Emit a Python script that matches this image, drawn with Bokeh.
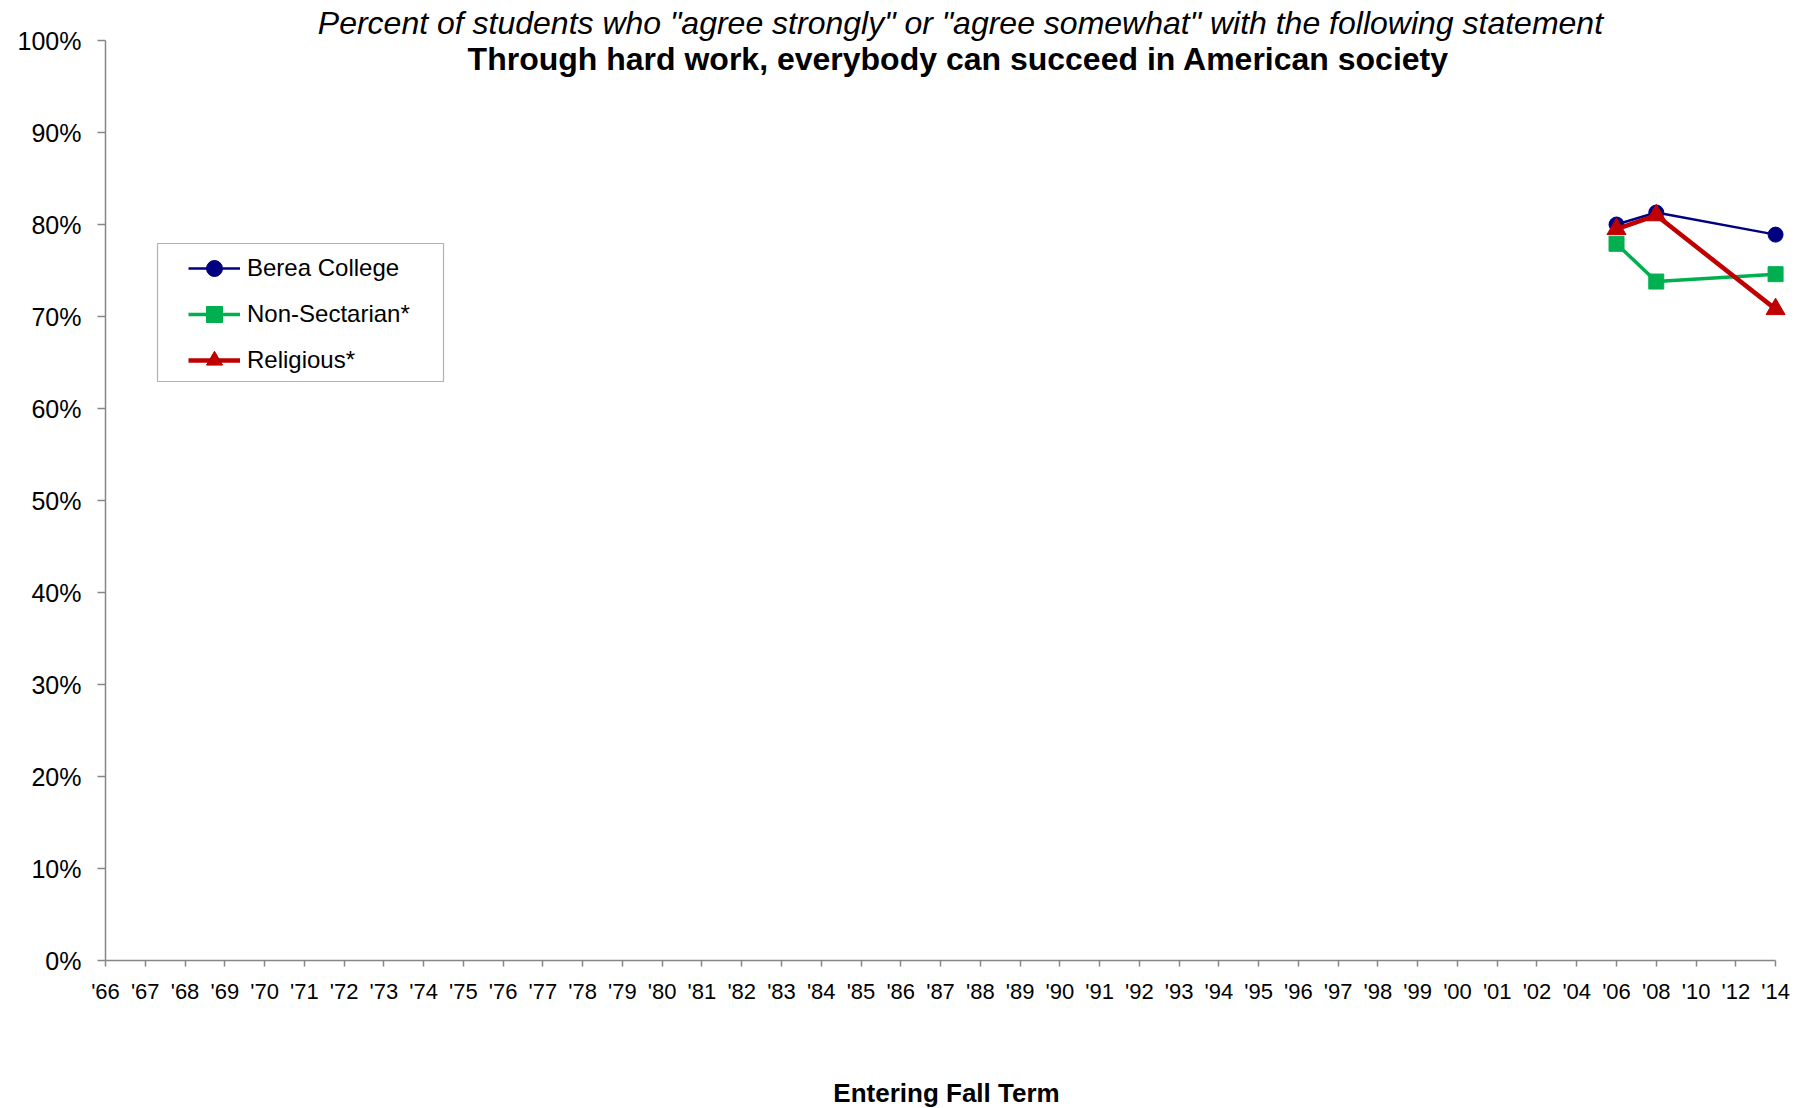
from bokeh.plotting import figure
from bokeh.models import (ColumnDataSource, Legend, LegendItem, Label, FixedTicker,
                          PrintfTickFormatter, Range1d, BoxAnnotation)
from bokeh.embed import file_html
from bokeh.resources import INLINE

# ---- data ----
years = [f"'{y:02d}" for y in list(range(66, 100)) + [0, 1, 2, 4, 6, 8, 10, 12, 14]]
series_years = ["'06", "'08", "'14"]
berea = [80.0, 81.3, 78.9]
non_sectarian = [77.9, 73.8, 74.6]
religious = [79.5, 81.0, 70.8]
y_ticks = list(range(0, 101, 10))

title_1 = 'Percent of students who "agree strongly" or "agree somewhat" with the following statement'
title_2 = "Through hard work, everybody can succeed in American society"
x_title = "Entering Fall Term"

FONT = "Liberation Sans"

idx = {lab: i for i, lab in enumerate(years)}
xs = [idx[y] for y in series_years]

PX_PER_PCT = 9.2
PX_PER_CAT = 39.762
FRAME_H = 960
X_PAD = 0.3
n_last = len(years) - 1
p = figure(width=1800, height=1100, output_backend="svg", toolbar_location=None,
           x_range=Range1d(0, n_last + X_PAD), y_range=Range1d(0, FRAME_H / PX_PER_PCT),
           min_border_left=105, min_border_right=5, min_border_top=0, min_border_bottom=140,
           frame_width=int(round((n_last + X_PAD) * PX_PER_CAT)), frame_height=FRAME_H)
p.outline_line_color = None
p.grid.visible = False
p.background_fill_color = "white"
p.border_fill_color = "white"

# axes
ax = p.xaxis[0]
ax.ticker = FixedTicker(ticks=list(range(len(years))))
ax.bounds = (0, n_last)
ax.major_label_overrides = {i: lab for i, lab in enumerate(years)}
ax.major_label_text_font = FONT
ax.major_label_text_font_size = "22px"
ax.major_label_text_color = "black"
ax.major_label_standoff = 12
ax.major_tick_out = 6
ax.major_tick_in = 0
ax.minor_tick_out = 0
ax.minor_tick_in = 0
ax.axis_line_color = "#868686"
ax.major_tick_line_color = "#868686"
ax.axis_line_width = 1.5
ax.major_tick_line_width = 1.5
ax.axis_label = x_title
ax.axis_label_text_font = FONT
ax.axis_label_text_font_style = "bold"
ax.axis_label_text_font_size = "26px"
ax.axis_label_text_color = "black"
ax.axis_label_standoff = 71

ay = p.yaxis[0]
ay.ticker = FixedTicker(ticks=y_ticks)
ay.bounds = (0, 100)
ay.formatter = PrintfTickFormatter(format="%d%%")
ay.major_label_text_font = FONT
ay.major_label_text_font_size = "25px"
ay.major_label_text_color = "black"
ay.major_label_standoff = 16
ay.major_tick_out = 8
ay.major_tick_in = 0
ay.minor_tick_out = 0
ay.minor_tick_in = 0
ay.axis_line_color = "#868686"
ay.major_tick_line_color = "#868686"
ay.axis_line_width = 1.5
ay.major_tick_line_width = 1.5

# series
specs = [
    ("Berea College", berea, "#000080", 2.5, "circle", 15),
    ("Non-Sectarian*", non_sectarian, "#00B050", 3.5, "square", 15),
    ("Religious*", religious, "#C00000", 4.5, "triangle", 19),
]
items = []
for name, vals, col, lw, mk, sz in specs:
    src = ColumnDataSource(dict(x=xs, y=vals))
    lr = p.line("x", "y", source=src, line_color=col, line_width=lw)
    sr = p.scatter("x", "y", source=src, marker=mk, size=sz, fill_color=col, line_color=col)
    items.append(LegendItem(label=name, renderers=[lr, sr]))

# legend frame (box) and legend entries
x_px = lambda px: (px - 105) / PX_PER_CAT
y_px = lambda py: (960 - py) / PX_PER_PCT
p.add_layout(BoxAnnotation(left=x_px(157), right=x_px(443), top=y_px(243), bottom=y_px(381),
                           fill_color="white", fill_alpha=1.0, line_color="black", line_width=1.2,
                           level="annotation"))
legend = Legend(items=items, location=(83, 580), border_line_color=None,
                background_fill_alpha=0.0,
                label_text_font=FONT, label_text_font_size="24px", label_text_color="black",
                glyph_width=52, glyph_height=40, label_height=40,
                label_standoff=7, spacing=6, padding=3, margin=0)
p.add_layout(legend, "center")

# titles
mid_x = 21.45
p.add_layout(Label(x=mid_x + 0.05, y=101.95, text=title_1, text_font=FONT, text_font_style="italic",
                   text_font_size="32px", text_align="center", text_baseline="middle",
                   text_color="black"))
p.add_layout(Label(x=mid_x, y=98.0, text=title_2, text_font=FONT, text_font_style="bold",
                   text_font_size="32px", text_align="center", text_baseline="middle",
                   text_color="black"))

open("out.html", "w").write(file_html(p, INLINE))
